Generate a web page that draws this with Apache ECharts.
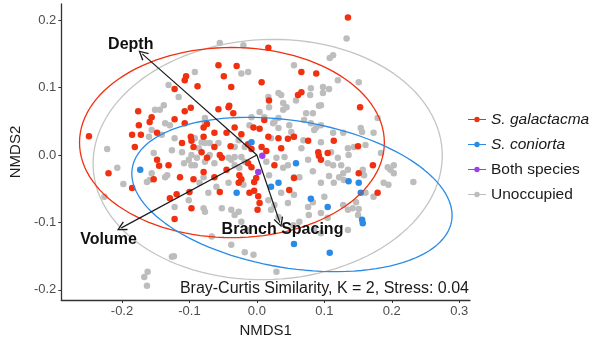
<!DOCTYPE html>
<html>
<head>
<meta charset="utf-8">
<script src="https://cdn.jsdelivr.net/npm/echarts@6/dist/echarts.min.js"></script>
<style>
  html, body { margin: 0; padding: 0; background: #fff; }
  #report { width: 594px; height: 343px; }
</style>
</head>
<body>
<div id="report"></div>
<script>
// NMDS scores per site
var galactacma = [
  [0.135,0.204],[0.017,0.159],[-0.057,0.133],[-0.030,0.132],[0.066,0.123],[0.088,0.121],
  [-0.105,0.117],[-0.107,0.111],[-0.049,0.117],[0.007,0.108],[-0.038,0.101],[-0.088,0.102],
  [-0.122,0.098],[0.066,0.093],[0.061,0.089],[0.018,0.081],[0.153,0.071],[-0.176,0.065],
  [-0.098,0.070],[-0.107,0.065],[-0.057,0.068],[-0.041,0.073],[-0.156,0.056],[-0.159,0.049],
  [-0.175,0.044],[-0.122,0.053],[-0.107,0.047],[-0.079,0.041],[-0.074,0.046],[0.011,0.052],
  [-0.033,0.041],[-0.005,0.041],[0.004,0.039],[-0.185,0.030],[-0.172,0.030],[-0.148,0.033],
  [-0.098,0.027],[-0.063,0.033],[-0.023,0.031],[0.017,0.027],[0.032,0.025],[0.046,0.024],
  [0.055,0.027],[0.076,0.021],[-0.249,0.028],[-0.181,0.012],[-0.111,0.018],[-0.094,0.012],
  [-0.097,0.021],[-0.063,0.012],[-0.039,0.013],[-0.013,0.016],[-0.008,0.009],[0.036,0.010],
  [0.007,0.012],[0.014,0.006],[0.114,0.021],[0.150,0.013],[0.091,0.004],[0.092,-0.001],
  [0.095,-0.007],[0.172,-0.015],[0.026,-0.015],[-0.013,-0.012],[-0.008,-0.018],[-0.055,0.000],
  [-0.052,-0.004],[-0.082,0.004],[-0.148,-0.007],[-0.145,-0.016],[-0.131,-0.015],[-0.220,-0.027],
  [-0.185,-0.049],[-0.153,-0.036],[-0.114,-0.033],[-0.094,-0.036],[-0.119,-0.058],[-0.129,-0.064],
  [-0.097,-0.079],[-0.122,-0.095],[-0.079,-0.025],[-0.063,-0.033],[-0.055,-0.055],[-0.026,-0.030],
  [-0.023,-0.036],[-0.001,-0.034],[-0.011,-0.056],[-0.004,-0.053],[0.002,-0.061],[0.004,-0.071],
  [0.001,-0.081],[0.055,-0.034],[0.048,-0.052],[0.105,0.003],[0.151,-0.027],[0.179,-0.056],
  [-0.004,-0.040],[-0.079,0.027],[-0.035,0.062],[-0.045,0.033],[-0.045,-0.022],[-0.027,-0.041],
  [-0.100,-0.055],[-0.042,0.071],[-0.074,-0.004]
];
var coniorta = [
  [-0.008,0.019],[0.058,-0.012],[-0.173,-0.022],[-0.030,-0.056],[0.032,-0.041],[0.021,-0.047],
  [0.055,-0.132],[0.080,-0.065],[0.105,-0.077],[0.136,-0.039],[0.151,-0.041],[0.154,-0.056],
  [0.156,-0.096],[0.157,-0.101],[0.108,-0.145]
];
var bothSpecies = [[0.008,-0.001],[0.002,-0.025]];
var unoccupied = [
  [-0.055,0.166],[0.133,0.173],[0.113,0.148],[0.108,0.144],[0.055,0.133],[-0.023,0.121],
  [-0.013,0.123],[0.120,0.111],[0.151,0.108],[0.098,0.101],[0.107,0.098],[0.080,0.099],
  [0.079,0.089],[0.036,0.089],[0.017,0.086],[0.032,0.092],[0.039,0.077],[0.044,0.071],
  [0.058,0.081],[0.018,0.071],[0.092,0.073],[0.073,0.062],[0.083,0.062],[0.004,0.064],
  [-0.008,0.056],[0.032,0.055],[0.026,0.049],[0.070,0.052],[0.080,0.047],[0.095,0.044],
  [0.048,0.044],[0.154,0.040],[0.156,0.034],[0.173,0.033],[0.179,0.055],[0.113,0.033],
  [0.128,0.033],[0.051,0.034],[0.054,0.027],[0.066,0.010],[0.095,0.019],[0.110,0.004],
  [0.120,-0.004],[0.136,0.000],[0.161,0.015],[0.184,0.003],[0.194,-0.018],[0.203,-0.015],
  [0.046,-0.015],[0.125,-0.015],[0.041,-0.003],[-0.131,0.104],[-0.116,0.086],[-0.138,0.074],
  [-0.144,0.067],[-0.151,0.067],[-0.129,0.044],[-0.136,0.047],[-0.156,0.037],[-0.160,0.027],
  [-0.141,0.030],[-0.122,0.025],[-0.077,0.018],[-0.070,0.018],[-0.153,0.003],[-0.126,0.007],
  [-0.111,0.004],[-0.097,0.000],[-0.086,0.010],[-0.033,0.012],[-0.027,0.022],[-0.033,-0.003],
  [-0.023,-0.003],[-0.011,0.044],[0.011,0.056],[0.024,0.047],[0.032,0.040],[-0.222,0.009],
  [-0.207,-0.019],[-0.198,-0.043],[-0.226,-0.062],[-0.163,-0.040],[-0.159,-0.037],[-0.126,-0.151],
  [-0.167,-0.181],[-0.162,-0.173],[-0.163,-0.194],[0.203,-0.027],[0.157,-0.022],[0.159,-0.030],
  [0.188,-0.041],[0.195,-0.044],[0.232,-0.040],[0.161,-0.056],[0.173,-0.062],[0.151,-0.080],
  [0.014,-0.010],[0.039,-0.019],[0.083,-0.024],[0.076,-0.007],[0.105,-0.012],[0.113,-0.015],
  [0.135,-0.022],[0.198,-0.022],[0.107,-0.031],[0.095,-0.041],[0.114,-0.041],[0.055,-0.059],
  [0.076,-0.077],[0.083,-0.070],[0.100,-0.062],[0.135,-0.081],[0.142,-0.079],[0.147,-0.070],
  [0.026,-0.074],[0.032,-0.092],[0.063,-0.099],[0.105,-0.093],[0.135,-0.111],[0.085,-0.111],
  [0.095,-0.116],[-0.015,-0.111],[-0.018,-0.144],[-0.005,-0.148],[0.029,-0.173],[-0.156,-0.027],
  [-0.136,-0.033],[-0.108,-0.012],[-0.101,-0.007],[-0.092,-0.015],[-0.077,-0.010],[-0.072,-0.003],
  [-0.063,-0.012],[-0.038,-0.007],[-0.033,-0.015],[-0.018,-0.010],[-0.085,-0.041],[-0.072,-0.056],
  [-0.101,-0.067],[-0.079,-0.079],[-0.077,-0.084],[-0.042,-0.041],[-0.038,-0.081],[-0.027,-0.084],
  [-0.052,-0.079],[-0.023,-0.099],[-0.122,-0.077],[0.017,-0.067],[0.021,-0.081],[0.036,-0.056],
  [0.046,-0.071],[-0.067,-0.121],[-0.038,-0.133],[-0.123,-0.150],[-0.077,0.055],[-0.077,0.047],
  [-0.092,0.025],[-0.082,0.019],[-0.057,0.018],[-0.089,-0.004],[-0.070,0.000],[-0.042,-0.004],
  [-0.018,0.012],[-0.133,-0.030],[-0.097,-0.015],[-0.026,-0.019],[-0.020,-0.044],[-0.060,-0.047],
  [-0.079,-0.033],[0.039,0.067],[0.095,0.074],[0.088,0.041],[0.085,0.037],[0.021,0.025],
  [0.069,0.022],[0.135,0.010],[0.144,0.012],[0.029,-0.004],[0.128,-0.027],[0.122,-0.033],
  [0.129,-0.037],[0.055,-0.033],[0.063,-0.033],[0.018,-0.030],[-0.092,0.123],[-0.020,0.163],
  [-0.033,-0.089],[0.077,-0.089],[0.095,-0.086],[0.128,-0.074],[0.150,-0.089],[0.054,-0.104],
  [0.098,0.092]
];

// envfit vectors
var vectorNames = ['Depth', 'Volume', 'Branch Spacing'];
var vectorTips = [[-0.170, 0.150], [-0.201, -0.108], [0.034, -0.100]];
var vectorLabelPos = [[-0.187, 0.164], [-0.220, -0.126], [0.038, -0.111]];

// group ellipses: centre x, centre y, semi-axis a, semi-axis b, angle (deg)
var ellGalactacma = [-0.037, 0.0185, 0.226, 0.141, 0];
var ellConiorta = [0.052, -0.0585, 0.240, 0.109, -9.4];
var ellUnoccupied = [0.016, -0.0067, 0.259, 0.178, 2.5];

var xTicks = [-0.2, -0.1, 0.0, 0.1, 0.2, 0.3];
var yTicks = [-0.2, -0.1, 0.0, 0.1, 0.2];

var RED = '#f0300f', BLUE = '#2a8be6', PURPLE = '#9d3fe6', GREY = '#bdbdbd';
var FONT = 'Liberation Sans, Arial, sans-serif';

function ellipsePath(p) {
    var t = p[4] * Math.PI / 180, pts = [];
    for (var i = 0; i <= 120; i++) {
        var th = 2 * Math.PI * i / 120;
        pts.push([
            p[0] + p[2] * Math.cos(th) * Math.cos(t) - p[3] * Math.sin(th) * Math.sin(t),
            p[1] + p[2] * Math.cos(th) * Math.sin(t) + p[3] * Math.sin(th) * Math.cos(t)
        ]);
    }
    return pts;
}

function ellipseSeries(name, p, color) {
    return {
        name: name, type: 'line', data: ellipsePath(p), showSymbol: false, silent: true,
        lineStyle: { color: color, width: 1.3 }, z: 3
    };
}

function pointSeries(name, data, color) {
    return {
        name: name, type: 'scatter', data: data, symbolSize: 6.5, silent: true,
        itemStyle: { color: color, opacity: 1 }, z: 2
    };
}

var legendIcon = 'path://M0,4 L7,4 L7,5 L0,5 Z M13,4 L20,4 L20,5 L13,5 Z M7,4.5 A3,3 0 1,0 13,4.5 A3,3 0 1,0 7,4.5 Z';
var chevron = 'path://M5,0 L10,9 L8.8,9.7 L5,2.6 L1.2,9.7 L0,9 Z';

var myChart = echarts.init(document.getElementById('report'), null, { renderer: 'canvas' });

var option = {
    animation: false,
    backgroundColor: '#fff',
    grid: { left: 59, right: 124, top: 4, bottom: 43 },
    xAxis: {
        type: 'value', min: -0.29, max: 0.316,
        name: 'NMDS1', nameLocation: 'middle', nameGap: 21,
        nameTextStyle: { fontFamily: FONT, fontSize: 15, color: '#1a1a1a' },
        splitLine: { show: false },
        axisLine: { onZero: false, lineStyle: { color: '#333', width: 1.3 } },
        axisTick: { customValues: xTicks, length: 3, lineStyle: { color: '#333' } },
        axisLabel: {
            customValues: xTicks, margin: 5, color: '#4d4d4d', fontSize: 13, fontFamily: FONT,
            formatter: function (v) { return v.toFixed(1); }
        }
    },
    yAxis: {
        type: 'value', min: -0.215, max: 0.224,
        name: 'NMDS2', nameLocation: 'middle', nameGap: 38,
        nameTextStyle: { fontFamily: FONT, fontSize: 15, color: '#1a1a1a' },
        splitLine: { show: false },
        axisLine: { onZero: false, lineStyle: { color: '#333', width: 1.3 } },
        axisTick: { customValues: yTicks, length: 3, lineStyle: { color: '#333' } },
        axisLabel: {
            customValues: yTicks, margin: 5, color: '#4d4d4d', fontSize: 13, fontFamily: FONT,
            formatter: function (v) { return v.toFixed(1); }
        }
    },
    legend: {
        orient: 'vertical', left: 463, top: 106, itemGap: 8,
        itemWidth: 18, itemHeight: 6,
        textStyle: {
            fontFamily: FONT, fontSize: 15.5, color: '#1a1a1a', lineHeight: 17,
            rich: { i: { fontStyle: 'italic', fontFamily: FONT, fontSize: 15.5, color: '#1a1a1a' } }
        },
        formatter: function (name) {
            return name.indexOf('S. ') === 0 ? '{i|' + name + '}' : name;
        },
        data: [
            { name: 'S. galactacma', icon: legendIcon },
            { name: 'S. coniorta', icon: legendIcon },
            { name: 'Both species', icon: legendIcon },
            { name: 'Unoccupied', icon: legendIcon }
        ]
    },
    graphic: [{
        type: 'text', right: 125, top: 281,
        style: {
            text: 'Bray-Curtis Similarity, K = 2, Stress: 0.04',
            font: '16px ' + FONT, fill: '#1a1a1a'
        }
    }],
    series: [
        pointSeries('Unoccupied', unoccupied, GREY),
        pointSeries('S. galactacma', galactacma, RED),
        pointSeries('S. coniorta', coniorta, BLUE),
        pointSeries('Both species', bothSpecies, PURPLE),
        ellipseSeries('ell-unoccupied', ellUnoccupied, '#c4c4c4'),
        ellipseSeries('ell-galactacma', ellGalactacma, RED),
        ellipseSeries('ell-coniorta', ellConiorta, BLUE),
        {
            type: 'lines', coordinateSystem: 'cartesian2d', silent: true, z: 5,
            symbol: ['none', chevron], symbolSize: 10,
            lineStyle: { color: '#1a1a1a', width: 1.2, opacity: 1 },
            data: vectorTips.map(function (t) { return { coords: [[0, 0], t] }; })
        },
        {
            type: 'scatter', silent: true, symbolSize: 0, z: 6,
            itemStyle: { opacity: 1 },
            data: vectorNames.map(function (n, i) { return { name: n, value: vectorLabelPos[i] }; }),
            label: {
                show: true, position: 'inside', formatter: '{b}',
                fontFamily: FONT, fontSize: 16, fontWeight: 'bold', color: '#111'
            }
        }
    ]
};

myChart.setOption(option);
</script>
</body>
</html>
